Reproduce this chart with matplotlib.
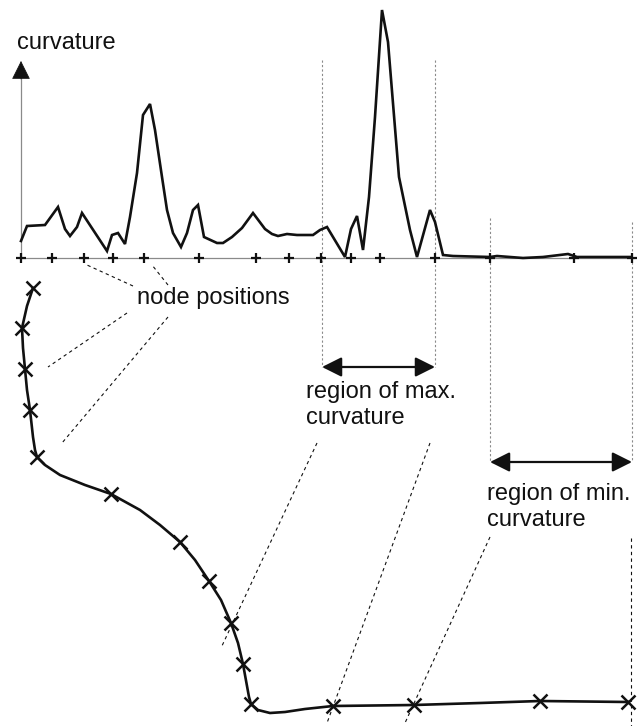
#!/usr/bin/env python3
import matplotlib
matplotlib.use('Agg')
import matplotlib.pyplot as plt

# diagram is laid out in picture pixels (x right, y down)
W, H = 644, 726
baseline_y = 258

# curvature profile: position along the curve and height above the baseline
curv_s = [21, 27, 45, 58, 65, 70, 77, 82, 107, 112, 118, 125, 130, 137, 143, 150,
          155, 162, 167, 173, 181, 187, 193, 198, 204, 217, 223, 232, 242, 253, 265,
          272, 278, 287, 297, 313, 320, 327, 345, 351, 357, 363, 369, 375, 382, 388,
          399, 410, 417, 430, 435, 443, 453, 490, 497, 523, 543, 568, 577, 630]
curv_k = [17, 32, 33, 51, 29, 22, 31, 45, 7, 23, 25, 14, 41, 85, 143, 154,
          128, 81, 48, 25, 11, 25, 48, 53, 21, 15, 15, 21, 30, 45, 29,
          24, 22, 24, 23, 23, 28, 31, 1, 29, 42, 8, 61, 141, 248, 216,
          81, 28, 1, 48, 36, 3, 2, 1, 2, 0, 1, 4, 1, 1]

# node positions on the arc-length axis
node_s = [21, 52, 84, 113, 144, 199, 256, 289, 321, 351, 380, 435, 490, 574, 632]

# the contour itself (nodes) and some extra points along it
node_x = [33, 22, 25, 30, 37, 111, 180, 209, 231, 243, 251, 333, 414, 540, 628]
node_y = [288, 328, 369, 410, 457, 494, 542, 581, 623, 664, 704, 706, 705, 701, 702]
curve_x = [33, 27, 22, 23, 25, 27, 30, 33, 35, 37, 45, 60, 85, 111, 140, 160, 180,
           195, 209, 221, 231, 238, 243, 247, 249, 251, 258, 270, 285, 305, 333,
           414, 480, 540, 628]
curve_y = [288, 306, 328, 348, 369, 390, 410, 437, 450, 457, 465, 475, 485, 494,
           510, 525, 542, 560, 581, 600, 623, 643, 664, 686, 697, 704, 710, 713,
           712, 709, 706, 705, 703, 701, 702]

# region boundaries on the curvature axis
max_region = (322, 435)
min_region = (490, 632)

fig = plt.figure(figsize=(W / 100, H / 100), dpi=100)
ax = fig.add_axes([0, 0, 1, 1])
ax.set_xlim(0, W)
ax.set_ylim(H, 0)
ax.axis('off')

ink = '#111111'
grey = '#8a8a8a'
font = dict(family=['Liberation Sans', 'DejaVu Sans'], fontsize=17, color=ink)

# axes of the curvature plot
ax.plot([20, 634], [baseline_y, baseline_y], color=grey, lw=0.9, zorder=1)
ax.plot([21, 21], [baseline_y, 75], color=grey, lw=0.9, zorder=1)
ax.annotate('', xy=(21, 61), xytext=(21, 79),
            arrowprops=dict(arrowstyle='-|>,head_length=0.6,head_width=0.3',
                            mutation_scale=20, color=ink, lw=0.5,
                            shrinkA=0, shrinkB=0))
ax.text(17, 43, 'curvature', ha='left', va='center', **font)

# curvature line and node ticks
ax.plot(curv_s, [baseline_y - k for k in curv_k], color=ink, lw=1.9,
        solid_joinstyle='miter', zorder=3)
ax.plot(node_s, [baseline_y] * len(node_s), ls='none', marker='+',
        ms=7, mew=1.6, color=ink, zorder=4)

# contour with nodes
ax.plot(curve_x, curve_y, color=ink, lw=1.9, zorder=3)
ax.plot(node_x, node_y, ls='none', marker='x', ms=10.5, mew=1.8, color=ink, zorder=4)

# vertical region guides
dots = (0, (2, 2))
for xs, top, bottom in [(max_region[0], 60, 367), (max_region[1], 60, 367),
                        (min_region[0], 218, 462), (min_region[1], 222, 462)]:
    ax.plot([xs, xs], [top, bottom], color=grey, lw=0.8, ls=dots, zorder=1)

# double arrows for the regions
for (x0, x1), ya in [(max_region, 367), (min_region, 462)]:
    ax.annotate('', xy=(x1, ya), xytext=(x0, ya),
                arrowprops=dict(arrowstyle='<|-|>,head_length=0.6,head_width=0.3',
                                mutation_scale=20, color=ink, lw=1.6,
                                shrinkA=0, shrinkB=0))

ax.text(213, 298, 'node positions', ha='center', va='center', **font)
ax.text(306, 405, 'region of max.\ncurvature', ha='left', va='center',
        linespacing=1.25, **font)
ax.text(487, 507, 'region of min.\ncurvature', ha='left', va='center',
        linespacing=1.25, **font)

# dashed leader lines
dash = (0, (3, 3))
leaders = [
    ((133, 286), (87, 265)),
    ((168, 285), (152, 265)),
    ((127, 313), (48, 367)),
    ((168, 317), (62, 443)),
    ((317, 443), (221, 648)),
    ((430, 443), (327, 723)),
    ((490, 537), (405, 723)),
    ((631, 538), (631, 726)),
]
for (xa, ya), (xb, yb) in leaders:
    ax.plot([xa, xb], [ya, yb], color=ink, lw=0.8, ls=dash, zorder=2)

fig.savefig('out.png', dpi=100, facecolor='white')
